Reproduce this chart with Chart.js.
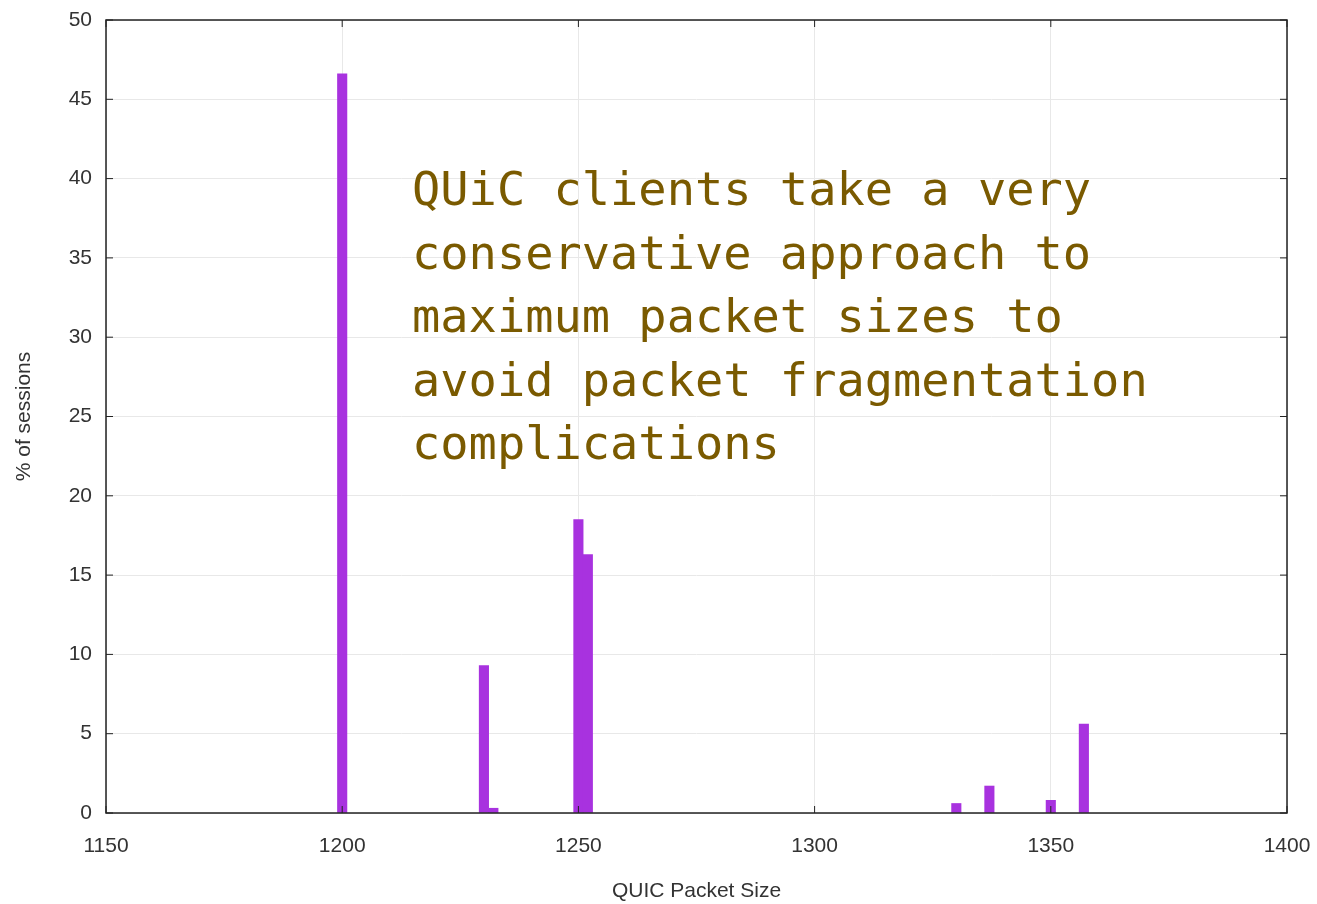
<!DOCTYPE html>
<html>
<head>
<meta charset="utf-8">
<script src="https://cdn.jsdelivr.net/npm/chart.js@4"></script>
<style>
  html, body { margin: 0; padding: 0; background: #fff; }
  #wrap { width: 1317px; height: 904px; }
</style>
</head>
<body>
<div id="wrap"><canvas id="sizeChart"></canvas></div>
<script>
// QUIC packet sizes seen and share of sessions (%)
const packetSizes = [1200, 1230, 1232, 1250, 1252, 1330, 1337, 1350, 1357];
const sessionShare = [46.6, 9.3, 0.3, 18.5, 16.3, 0.6, 1.7, 0.8, 5.6];

const xTicks = [1150, 1200, 1250, 1300, 1350, 1400];
const yTicks = [0, 5, 10, 15, 20, 25, 30, 35, 40, 45, 50];

const noteLines = [
  "QUiC clients take a very",
  "conservative approach to",
  "maximum packet sizes to",
  "avoid packet fragmentation",
  "complications",
];

// gnuplot-ish frame: box all round + small inward tick marks
const frame = {
  id: "frame",
  afterDatasetsDraw(chart) {
    const { ctx, chartArea: a, scales } = chart;
    ctx.save();
    ctx.strokeStyle = "#222";
    ctx.lineWidth = 1.5;
    ctx.strokeRect(a.left, a.top, a.right - a.left, a.bottom - a.top);
    ctx.lineWidth = 1;
    const len = 7;
    ctx.beginPath();
    xTicks.forEach((v) => {
      const px = scales.x.getPixelForValue(v);
      ctx.moveTo(px, a.bottom); ctx.lineTo(px, a.bottom - len);
      ctx.moveTo(px, a.top); ctx.lineTo(px, a.top + len);
    });
    yTicks.forEach((v) => {
      const py = scales.y.getPixelForValue(v);
      ctx.moveTo(a.left, py); ctx.lineTo(a.left + len, py);
      ctx.moveTo(a.right, py); ctx.lineTo(a.right - len, py);
    });
    ctx.stroke();
    ctx.restore();
  },
};

const note = {
  id: "note",
  afterDraw(chart) {
    const { ctx, chartArea: a } = chart;
    ctx.save();
    ctx.fillStyle = "#7a5a00";
    ctx.font = "47px 'DejaVu Sans Mono'";
    ctx.textBaseline = "alphabetic";
    const x = a.left + 306;
    let y = a.top + 185;
    noteLines.forEach((line) => {
      ctx.fillText(line, x, y);
      y += 63.5;
    });
    ctx.restore();
  },
};

const noPad = (s) => {
  s.paddingTop = 0; s.paddingBottom = 0; s.paddingLeft = 0; s.paddingRight = 0;
};

const ctx = document.getElementById("sizeChart").getContext("2d");
const tickFont = { family: "'Liberation Sans', Arial", size: 21 };

new Chart(ctx, {
  type: "bar",
  data: {
    datasets: [
      {
        label: "% of sessions",
        data: packetSizes.map((s, i) => ({ x: s, y: sessionShare[i] })),
        backgroundColor: "#a832df",
        borderWidth: 0,
        barPercentage: 1,
        categoryPercentage: 1,
      },
    ],
  },
  options: {
    responsive: true,
    maintainAspectRatio: false,
    animation: false,
    layout: { padding: { left: 0, top: 20, right: 30, bottom: 0 } },
    plugins: {
      legend: { display: false },
      tooltip: { enabled: false },
    },
    scales: {
      x: {
        type: "linear",
        min: 1150,
        max: 1400,
        offset: false,
        grid: { offset: false, color: "#e8e8e8", drawTicks: false },
        border: { display: false },
        afterBuildTicks: (s) => { s.ticks = xTicks.map((v) => ({ value: v })); },
        afterFit: (s) => { s.height = 91; noPad(s); },
        ticks: {
          padding: 21,
          color: "#333",
          font: tickFont,
          callback: (v) => String(v),
        },
        title: {
          display: true,
          text: "QUIC Packet Size",
          color: "#333",
          padding: { top: 0, bottom: 0 },
          font: tickFont,
        },
      },
      y: {
        min: 0,
        max: 50,
        grid: { color: "#e8e8e8", drawTicks: false },
        border: { display: false },
        afterBuildTicks: (s) => { s.ticks = yTicks.map((v) => ({ value: v })); },
        afterFit: (s) => { s.width = 106; noPad(s); },
        ticks: {
          padding: 14,
          color: "#333",
          font: tickFont,
          callback: (v) => String(v),
        },
        title: {
          display: true,
          text: "% of sessions",
          color: "#333",
          padding: { top: 12, bottom: 0 },
          font: tickFont,
        },
      },
    },
  },
  plugins: [frame, note],
});
</script>
</body>
</html>
